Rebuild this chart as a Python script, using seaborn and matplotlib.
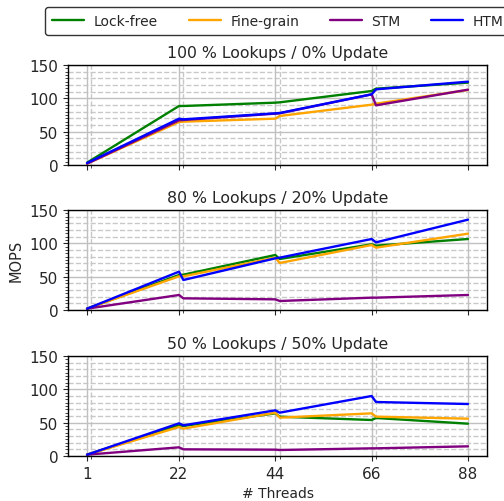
import numpy as np
import pandas as pd
import matplotlib
matplotlib.use("Agg")
import matplotlib.pyplot as plt
import seaborn as sns
from matplotlib.ticker import MultipleLocator, FixedLocator

threads = [1, 22, 23, 44, 45, 66, 67, 88]
series = ["Lock-free", "Fine-grain", "STM", "HTM"]
colors = ["green", "orange", "purple", "blue"]
titles = ["100 % Lookups / 0% Update", "80 % Lookups / 20% Update", "50 % Lookups / 50% Update"]

p1_lockfree = [3.5, 88.5, 88.5, 93.5, 94, 111, 114.5, 123.5]
p1_finegrain = [2, 64.5, 65, 69.5, 73.5, 90.5, 92, 112.5]
p1_stm = [2, 67, 67.5, 77, 77.5, 106, 89.5, 113]
p1_htm = [3, 69.5, 68.5, 77.5, 78, 106, 113.5, 125]

p2_lockfree = [2, 52.5, 53, 82.5, 76.5, 98.5, 96.5, 106.5]
p2_finegrain = [2, 50.5, 50.5, 78.5, 70.5, 97.5, 93.5, 114.5]
p2_stm = [2, 22.5, 17.5, 16, 13.5, 18.5, 18.5, 22.5]
p2_htm = [2, 57.5, 45, 77.5, 78.5, 106.5, 101.5, 135.5]

p3_lockfree = [2, 46, 45, 64, 59, 54, 57, 48.5]
p3_finegrain = [2, 43.5, 41, 65, 57.5, 64, 59, 56]
p3_stm = [2, 13, 10, 9.5, 9, 11.5, 11.5, 14.5]
p3_htm = [2, 49, 46, 68.5, 65, 90, 81, 78]

panels = [
    [p1_lockfree, p1_finegrain, p1_stm, p1_htm],
    [p2_lockfree, p2_finegrain, p2_stm, p2_htm],
    [p3_lockfree, p3_finegrain, p3_stm, p3_htm],
]

sns.set_style("ticks")
plt.rcParams["font.family"] = ["DejaVu Sans"]
plt.rcParams["font.size"] = 10

fig = plt.figure(figsize=(5.04, 5.02), dpi=100)
W, H = 504.0, 502.0
left, right = 68 / W, 487 / W
tops = [66, 211, 357]
axes = []
for i, t in enumerate(tops):
    ax = fig.add_axes([left, 1 - (t + 100) / H, right - left, 100 / H])
    axes.append(ax)

pal = dict(zip(series, colors))
for i, ax in enumerate(axes):
    rows = []
    for s, vals in zip(series, panels[i]):
        for x, v in zip(threads, vals):
            rows.append({"Threads": x, "MOPS": v, "Impl": s})
    df = pd.DataFrame(rows)
    sns.lineplot(data=df, x="Threads", y="MOPS", hue="Impl", palette=pal,
                 hue_order=series, ax=ax, linewidth=1.7, legend=(i == 0))
    ax.set_ylim(0, 150)
    ax.set_xlim(-3.35, 92.35)
    ax.set_xticks([1, 22, 44, 66, 88])
    ax.xaxis.set_minor_locator(FixedLocator([2, 23, 45, 67]))
    ax.yaxis.set_major_locator(MultipleLocator(50))
    ax.yaxis.set_minor_locator(MultipleLocator(5))
    ax.grid(True, which="major", color="#c0c0c0", linewidth=1.0, linestyle="-")
    ax.grid(True, which="minor", axis="x", color="#c8c8c8", linewidth=1.0, linestyle="--")
    for yv in [10, 20, 30, 40, 60, 70, 80, 90, 110, 120, 130, 140]:
        ax.axhline(yv, color="#c8c8c8", linewidth=1.0, linestyle="--", zorder=0.5)
    ax.set_axisbelow(True)
    ax.set_title(titles[i], fontsize=11.3, pad=6)
    ax.tick_params(axis="both", which="major", labelsize=11, length=3.5)
    ax.tick_params(axis="both", which="minor", length=2)
    ax.set_xlabel("")
    ax.set_ylabel("")
    if i < 2:
        ax.set_xticklabels([])
    for sp in ax.spines.values():
        sp.set_visible(True)
        sp.set_color("black")
        sp.set_linewidth(1.0)

axes[1].set_ylabel("MOPS", fontsize=10.5)
axes[2].set_xlabel("# Threads", fontsize=10)

handles, labels = axes[0].get_legend_handles_labels()
axes[0].get_legend().remove()
leg = fig.legend(handles, labels, loc="upper center", ncol=4,
                 bbox_to_anchor=(278 / W, 1 - 8 / H), borderaxespad=0,
                 frameon=True, fontsize=10, handlelength=2.3, columnspacing=2.2,
                 handletextpad=0.7, borderpad=0.5,
                 edgecolor="black", fancybox=True)
leg.get_frame().set_linewidth(1.0)

fig.savefig("out.png", dpi=100)
